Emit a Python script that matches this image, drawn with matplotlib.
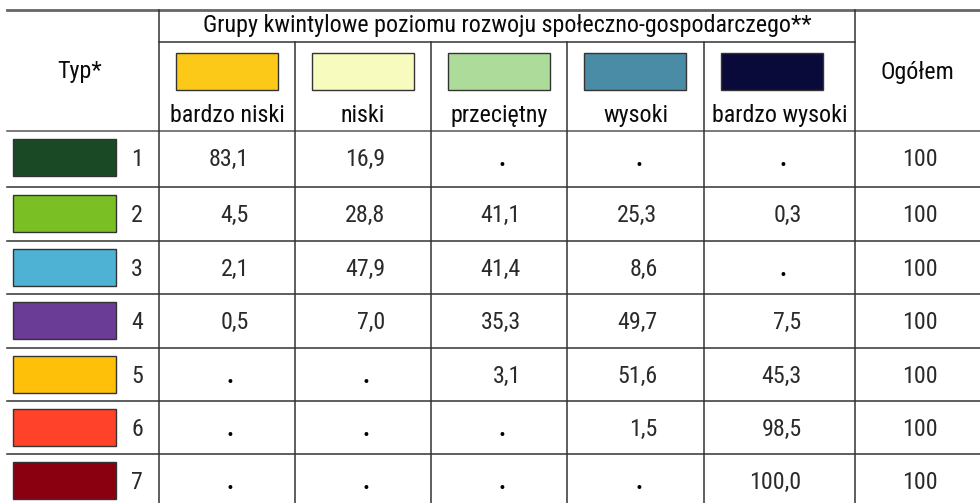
import matplotlib
matplotlib.use("Agg")
import matplotlib.pyplot as plt
from matplotlib import font_manager
from matplotlib.patches import Rectangle

# ---- data ----
group_title = "Grupy kwintylowe poziomu rozwoju społeczno-gospodarczego**"
group_labels = ["bardzo niski", "niski", "przeciętny", "wysoki", "bardzo wysoki"]
group_colors = ["#FDC918", "#F7FBBE", "#ADDC9A", "#4A8CA6", "#0A0A3A"]
type_labels = ["1", "2", "3", "4", "5", "6", "7"]
type_colors = ["#1A4A25", "#7AC025", "#4DB2D4", "#6A3C96", "#FFC00A", "#FF4229", "#8B0010"]
bardzo_niski = ["83,1", "4,5", "2,1", "0,5", ".", ".", "."]
niski = ["16,9", "28,8", "47,9", "7,0", ".", ".", "."]
przecietny = [".", "41,1", "41,4", "35,3", "3,1", ".", "."]
wysoki = [".", "25,3", "8,6", "49,7", "51,6", "1,5", "."]
bardzo_wysoki = [".", "0,3", ".", "7,5", "45,3", "98,5", "100,0"]
ogolem = ["100"] * 7

# ---- font ----
avail = {f.name for f in font_manager.fontManager.ttflist}
fam = next((f for f in ["Roboto Condensed", "Liberation Sans Narrow", "Open Sans Condensed",
                        "DejaVu Sans Condensed", "Roboto"] if f in avail), "DejaVu Sans")
plt.rcParams["font.family"] = [fam, "DejaVu Sans"]
FS = 17.3

W, H = 980, 503
fig = plt.figure(figsize=(W / 100, H / 100), dpi=100)
ax = fig.add_axes([0, 0, 1, 1])
ax.set_xlim(0, W)
ax.set_ylim(H, 0)
ax.axis("off")

# layout
col_x = [159, 295, 431, 567, 704, 855]
row_y = [131, 187, 240.5, 294, 347.5, 401, 454, 508]
LC = "#333333"
LW = 1.1

# lines
ax.plot([7, W], [10, 10], color="#666666", lw=2.0)
ax.plot([159, 855], [42, 42], color=LC, lw=LW)
for i, y in enumerate(row_y[:-1]):
    ax.plot([7, W], [y, y], color="#555555" if i == 0 else LC, lw=LW)
for x in col_x:
    top = 10 if x in (159, 855) else 42
    ax.plot([x, x], [top, H + 5], color=LC, lw=LW)

HC = "#0a0a0a"
NC = "#2a2a2a"
# header texts
ax.text(80, 71, "Typ*", ha="center", va="center", fontsize=FS, color=HC)
ax.text((159 + 855) / 2, 25, group_title, ha="center", va="center", fontsize=FS, color=HC)
ax.text((855 + W) / 2, 72, "Ogółem", ha="center", va="center", fontsize=FS, color=HC)

for j, (lab, c) in enumerate(zip(group_labels, group_colors)):
    left = col_x[j]
    cx = (col_x[j] + col_x[j + 1]) / 2
    ax.add_patch(Rectangle((left + 17, 53), 102, 37, facecolor=c, edgecolor="#333333", lw=1.0))
    ax.text(cx, 115, lab, ha="center", va="center", fontsize=FS, color=HC)

cols = [bardzo_niski, niski, przecietny, wysoki, bardzo_wysoki]
for i in range(len(type_labels)):
    y0, y1 = row_y[i], row_y[i + 1]
    yc = (y0 + min(y1, y0 + 53.5)) / 2 + 2
    ax.add_patch(Rectangle((13, (y0 + min(y1, y0 + 53.5)) / 2 - 18.5), 103, 37,
                           facecolor=type_colors[i], edgecolor="#333333", lw=1.0))
    ax.text(137, yc, type_labels[i], ha="center", va="center", fontsize=FS, color=NC)
    for j, col in enumerate(cols):
        cx = (col_x[j] + col_x[j + 1]) / 2
        v = col[i]
        if v == ".":
            ax.text(cx + 3, yc, v, ha="center", va="center", fontsize=FS, color="#000000",
                    fontweight="bold")
        else:
            ax.text(cx + 22, yc, v, ha="right", va="center", fontsize=FS, color=NC)
    ax.text((855 + W) / 2 + 2, yc, ogolem[i], ha="center", va="center", fontsize=FS, color=NC)

fig.savefig("out.png", dpi=100)
